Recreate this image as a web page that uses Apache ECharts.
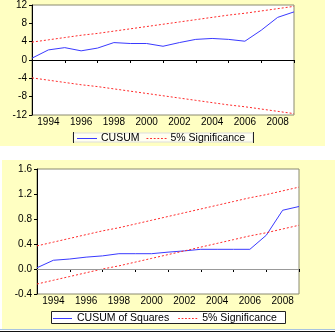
<!DOCTYPE html>
<html>
<head>
<meta charset="utf-8">
<script src="https://cdn.jsdelivr.net/npm/echarts@6/dist/echarts.min.js"></script>
<style>html,body{margin:0;padding:0;background:#fff}#c{width:335px;height:333px}</style>
</head>
<body>
<div id="c"></div>
<script>
var years = ['1993','1994','1995','1996','1997','1998','1999','2000','2001','2002','2003','2004','2005','2006','2007','2008','2009'];
var cusum = [0.4, 2.2, 2.7, 2.0, 2.6, 3.8, 3.6, 3.6, 3.0, 3.8, 4.5, 4.7, 4.5, 4.1, 6.5, 9.3, 10.5];
var cusumUpper = [3.9, 4.4, 4.9, 5.4, 5.8, 6.3, 6.8, 7.3, 7.8, 8.3, 8.8, 9.3, 9.8, 10.2, 10.7, 11.2, 11.7];
var cusumLower = [-3.9, -4.4, -4.9, -5.4, -5.8, -6.3, -6.8, -7.3, -7.8, -8.3, -8.8, -9.3, -9.8, -10.2, -10.7, -11.2, -11.7];
var cusumsq = [0.02, 0.14, 0.16, 0.19, 0.21, 0.245, 0.245, 0.245, 0.27, 0.29, 0.315, 0.315, 0.315, 0.315, 0.54, 0.94, 1.0];
var sqUpper = [0.37, 0.43, 0.49, 0.55, 0.61, 0.66, 0.72, 0.78, 0.84, 0.90, 0.96, 1.02, 1.08, 1.14, 1.19, 1.25, 1.31];
var sqLower = [-0.24, -0.18, -0.12, -0.06, 0.00, 0.05, 0.11, 0.17, 0.23, 0.29, 0.35, 0.41, 0.47, 0.53, 0.58, 0.64, 0.70];
var yTicksTop = [-12, 12, 4];
var yTicksBottom = [-0.4, 1.6, 0.4];

var FONT = 'Liberation Sans, Arial, sans-serif';
var chart = echarts.init(document.getElementById('c'), null, {renderer: 'canvas'});

function xAxisFor(gi) {
  return {
    type: 'category', gridIndex: gi, data: years, boundaryGap: false,
    axisLine: {lineStyle: {color: '#000', width: 1}},
    axisTick: {show: true, length: 3, inside: false, interval: function (i) { return i % 2 === 0; }, lineStyle: {color: '#000'}},
    axisLabel: {interval: function (i) { return i % 2 === 1; }, margin: 2, fontSize: 10, fontFamily: FONT, color: '#000'},
    splitLine: {show: false}
  };
}
function yAxisFor(gi, t, dec) {
  return {
    type: 'value', gridIndex: gi, min: t[0], max: t[1], interval: t[2],
    axisLine: {show: true, lineStyle: {color: '#000'}},
    axisTick: {show: true, length: 3, lineStyle: {color: '#000'}},
    axisLabel: {margin: 5, fontSize: 10, fontFamily: FONT, color: '#000',
      formatter: function (v) { return dec ? v.toFixed(1) : String(Math.round(v)); }},
    splitLine: {show: false}
  };
}
var blue = {color: '#3a3aff', width: 1};
var red = {color: '#ff2a2a', width: 1, type: [2, 2]};
var dashIcon = 'path://M0,0h2v1h-2z M4,0h2v1h-2z M8,0h2v1h-2z M12,0h2v1h-2z M16,0h2v1h-2z M20,0h2v1h-2z';

chart.setOption({
  animation: false,
  backgroundColor: '#fff',
  graphic: {elements: [
    {type: 'rect', z: -100, shape: {x: 0, y: 0, width: 325, height: 146}, style: {fill: '#ffffc2'}},
    {type: 'rect', z: -100, shape: {x: 2, y: 160, width: 333, height: 169}, style: {fill: '#ffffc2'}},
    {type: 'rect', z: -50, shape: {x: 73, y: 133, width: 180, height: 9}, style: {fill: '#fffff0', stroke: '#ddd', lineWidth: 1}},
    {type: 'line', z: -40, shape: {x1: 73.5, y1: 132, x2: 73.5, y2: 143}, style: {stroke: '#222', lineWidth: 1}},
    {type: 'line', z: -40, shape: {x1: 253.5, y1: 132, x2: 253.5, y2: 143}, style: {stroke: '#222', lineWidth: 1}},
    {type: 'rect', z: -50, shape: {x: 51.5, y: 311.5, width: 234, height: 12}, style: {fill: '#fff', stroke: '#222', lineWidth: 1}},
    {type: 'line', z: -40, shape: {x1: 0, y1: 329.5, x2: 335, y2: 329.5}, style: {stroke: '#a8c4e0', lineWidth: 1}},
    {type: 'line', z: -40, shape: {x1: 0, y1: 331.5, x2: 335, y2: 331.5}, style: {stroke: '#111', lineWidth: 1}}
  ]},
  grid: [
    {left: 32, top: 5, width: 262, height: 110, show: true, backgroundColor: '#fff', borderColor: '#8a8a70', borderWidth: 1},
    {left: 37, top: 169, width: 262, height: 125, show: true, backgroundColor: '#fff', borderColor: '#8a8a70', borderWidth: 1}
  ],
  legend: [
    {data: [{name: 'CUSUM', icon: 'rect'}, {name: '5% Significance', icon: dashIcon}],
      left: 76, top: 132, itemWidth: 20, itemHeight: 1, itemGap: 7, padding: [1, 1],
      textStyle: {fontSize: 10.5, fontFamily: FONT, color: '#000', padding: [0, 0, 0, -1]}},
    {data: [{name: 'CUSUM of Squares', icon: 'rect'}, {name: '5% Significance', icon: dashIcon}],
      left: 52, top: 312, itemWidth: 19, itemHeight: 1, itemGap: 9, padding: [1, 1],
      textStyle: {fontSize: 10.5, fontFamily: FONT, color: '#000'}}
  ],
  xAxis: [xAxisFor(0), xAxisFor(1)],
  yAxis: [yAxisFor(0, yTicksTop, false), yAxisFor(1, yTicksBottom, true)],
  series: [
    {name: 'CUSUM', type: 'line', xAxisIndex: 0, yAxisIndex: 0, data: cusum, symbol: 'none', lineStyle: blue, itemStyle: {color: blue.color}},
    {name: '5% Significance', type: 'line', xAxisIndex: 0, yAxisIndex: 0, data: cusumUpper, symbol: 'none', lineStyle: red, itemStyle: {color: red.color}},
    {name: '5% Significance', type: 'line', xAxisIndex: 0, yAxisIndex: 0, data: cusumLower, symbol: 'none', lineStyle: red, itemStyle: {color: red.color}},
    {name: 'CUSUM of Squares', type: 'line', xAxisIndex: 1, yAxisIndex: 1, data: cusumsq, symbol: 'none', lineStyle: blue, itemStyle: {color: blue.color},
      markLine: {silent: true, symbol: 'none', label: {show: false}, lineStyle: {color: '#999', type: 'solid', width: 1}, data: [{yAxis: 0}]}},
    {name: '5% Significance', type: 'line', xAxisIndex: 1, yAxisIndex: 1, data: sqUpper, symbol: 'none', lineStyle: red, itemStyle: {color: red.color}},
    {name: '5% Significance', type: 'line', xAxisIndex: 1, yAxisIndex: 1, data: sqLower, symbol: 'none', lineStyle: red, itemStyle: {color: red.color}}
  ]
});
</script>
</body>
</html>
